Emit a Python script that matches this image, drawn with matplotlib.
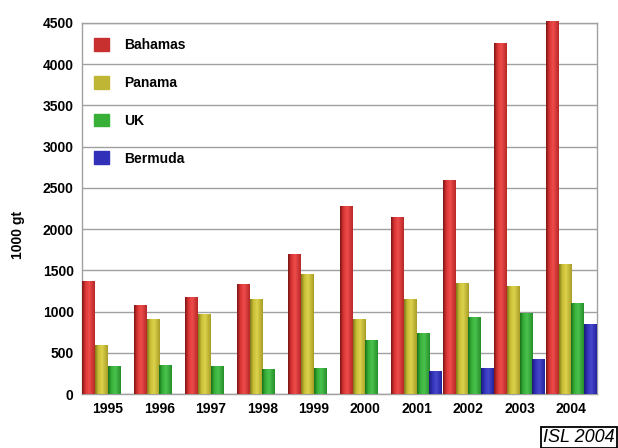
import numpy as np
import matplotlib
matplotlib.use("Agg")
import matplotlib.pyplot as plt
from matplotlib.patches import Patch
from matplotlib.colors import LinearSegmentedColormap

years = ["1995", "1996", "1997", "1998", "1999", "2000", "2001", "2002", "2003", "2004"]
bahamas = [1370, 1080, 1180, 1330, 1700, 2280, 2150, 2590, 4260, 4520]
panama = [590, 910, 970, 1150, 1460, 910, 1150, 1350, 1310, 1580]
uk = [340, 350, 340, 300, 310, 660, 740, 940, 980, 1100]
bermuda = [0, 0, 0, 0, 0, 0, 280, 310, 430, 850]
series_names = ["Bahamas", "Panama", "UK", "Bermuda"]
y_ticks = [0, 500, 1000, 1500, 2000, 2500, 3000, 3500, 4000, 4500]

series = [bahamas, panama, uk, bermuda]
shades = [
    ("#7a1414", "#d83434", "#ee4c4c", "#b82828"),
    ("#7d7818", "#c8bd34", "#dcd24c", "#a89e26"),
    ("#17701a", "#35ae37", "#4cc24e", "#26902a"),
    ("#1a1a78", "#3030b8", "#4848cc", "#2424a0"),
]
legend_colors = ["#c83030", "#c0b636", "#38b038", "#3030b8"]

plt.rcParams['font.family'] = ['Liberation Sans', 'DejaVu Sans']
fig = plt.figure(figsize=(6.18, 4.48), dpi=100)
ax = fig.add_axes([82/618, 1-394/448, (597-82)/618, (394-23)/448])

ax.set_xlim(-0.5, len(years) - 0.5)
ax.set_ylim(0, 4500)
ax.set_yticks(y_ticks)
ax.set_yticklabels([str(t) for t in y_ticks], fontsize=10, fontweight='bold')
ax.set_xticks(np.arange(len(years)))
ax.set_xticklabels(years, fontsize=10, fontweight='bold')
ax.tick_params(length=0, pad=6)
ax.yaxis.grid(True, color='#a0a0a0', linewidth=1.0)
ax.set_axisbelow(True)
for s in ax.spines.values():
    s.set_color('#a0a0a0')
    s.set_linewidth(1.0)

w = 0.245
offsets = [-0.37, -0.125, 0.12, 0.365]
x = np.arange(len(years))
grad = np.linspace(0, 1, 64).reshape(1, -1)
for vals, off, sh in zip(series, offsets, shades):
    cmap = LinearSegmentedColormap.from_list('c', [(0, sh[0]), (0.25, sh[1]), (0.55, sh[2]), (1.0, sh[3])])
    bars = ax.bar(x + off, vals, width=w, color=sh[1], zorder=2, linewidth=0)
    for b in bars:
        h = b.get_height()
        if h <= 0:
            continue
        x0 = b.get_x()
        im = ax.imshow(grad, extent=[x0, x0 + b.get_width(), 0, h], aspect='auto',
                       cmap=cmap, zorder=3, interpolation='bilinear')
        im.set_clip_path(b)
ax.set_xlim(-0.5, len(years) - 0.5)
ax.set_ylim(0, 4500)

fig.text(18/618, 1-235/448, "1000 gt", rotation=90, fontsize=10, fontweight='bold',
         ha='center', va='center')

handles = [Patch(facecolor=c, edgecolor=c) for c in legend_colors]
leg = ax.legend(handles, series_names, loc='upper left', bbox_to_anchor=(12/515, 1 - 15/371),
                frameon=False, prop={'size': 10, 'weight': 'bold'}, borderpad=0, borderaxespad=0,
                handlelength=1.05, handleheight=1.05, handletextpad=1.1, labelspacing=1.7)

fig.text(0.995, 0.004, "ISL 2004", fontsize=13, style='italic', ha='right', va='bottom',
         bbox=dict(boxstyle='square,pad=0.12', facecolor='white', edgecolor='black', linewidth=1.3))

fig.savefig("out.png", dpi=100)
